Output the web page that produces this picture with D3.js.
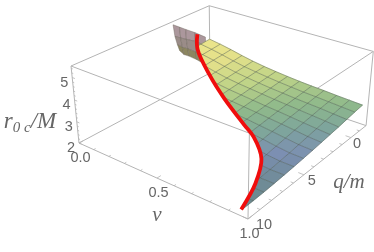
<!DOCTYPE html>
<html>
<head>
<meta charset="utf-8">
<script src="https://cdn.jsdelivr.net/npm/d3@7"></script>
<style>
	html, body { margin: 0; padding: 0; background: #fff; }
	svg { display: block; filter: blur(0.3px); }
	.tick { font: 14.5px "Liberation Sans", sans-serif; fill: #666; text-anchor: middle; dominant-baseline: central; }
	.lab { font: italic 21px "Liberation Serif", serif; fill: #666; text-anchor: middle; }
</style>
</head>
<body>
<svg id="chart" width="374" height="252"></svg>
<script>
// tick values
var vTicks = [0, 0.5, 1];
var qTicks = [0, 5, 10];
var zTicks = [2, 3, 4, 5];
var vMinor = d3.range(0, 1.01, 0.1);
var qMinor = d3.range(-1, 10.01, 1);
var zMinor = d3.range(2, 5.41, 0.2);
var qLabelDx = [6, 8, 16];

// surface mesh: v and q of the grid lines, r0c/M per v row
var surfaceV = [0, 0.075, 0.149, 0.224, 0.298, 0.373, 0.448, 0.522, 0.597, 0.672, 0.746, 0.821, 0.895, 0.97];
var surfaceQ = [-1.8, -0.89, 0.02, 0.92, 1.83, 2.74, 3.65, 4.55, 5.46, 6.37, 7.28, 8.18, 9.09, 10];
var surfaceZ = [
	[3.80, 3.76, 3.72, 3.68],
	[3.71, 3.67, 3.63, 3.59, 3.55],
	[3.60, 3.56, 3.52, 3.48, 3.44],
	[3.47, 3.43, 3.39, 3.35, 3.31, 3.27],
	[3.36, 3.32, 3.28, 3.24, 3.20, 3.16, 3.12],
	[3.27, 3.24, 3.20, 3.16, 3.12, 3.08, 3.04],
	[3.20, 3.17, 3.13, 3.10, 3.06, 3.02, 2.98, 2.94],
	[3.14, 3.11, 3.07, 3.04, 3.00, 2.96, 2.92, 2.88],
	[3.09, 3.06, 3.02, 2.98, 2.94, 2.90, 2.86, 2.82, 2.78],
	[3.05, 3.01, 2.97, 2.93, 2.89, 2.84, 2.79, 2.74, 2.69],
	[3.02, 2.98, 2.93, 2.88, 2.83, 2.78, 2.72, 2.66, 2.60, 2.54],
	[2.98, 2.94, 2.89, 2.83, 2.77, 2.71, 2.64, 2.57, 2.50, 2.44, 2.39, 2.35],
	[2.95, 2.90, 2.84, 2.78, 2.71, 2.64, 2.57, 2.50, 2.44, 2.39, 2.35, 2.32, 2.30, 2.29],
	[2.92, 2.86, 2.79, 2.72, 2.66, 2.60, 2.54, 2.49, 2.44, 2.40, 2.36, 2.33, 2.31, 2.30]
];

// the steep sliver left of the red curve, rows from top to bottom
var patchV = [0, 0, 0, 0.02, 0.06];
var patchQ = [
	[1.74, 1.15, 0.56, -0.03, -0.5],
	[1.6, 1.07, 0.53, -0.06, -0.52],
	[1.4, 0.93, 0.42, -0.1, -0.54],
	[1.2, 0.8, 0.32, -0.15, -0.56]
];
var patchZ = [
	[5.35, 5.1, 4.85, 4.6, 4.35],
	[4.75, 4.55, 4.35, 4.15, 3.9],
	[4.3, 4.05, 3.85, 3.6, 3.3],
	[3.95, 3.65, 3.45, 3.2, 2.9]
];
var patchColors = ['#ab979c', '#9a8c88', '#8c8660'];

// red critical curve
var curveV = [0, 0.07, 0.26, 0.45, 0.66, 0.73, 0.825, 0.90, 0.965];
var curveQ = [-0.56, 0.44, 2.04, 3.51, 4.93, 5.16, 5.99, 7.76, 10];
var curveZ = [4.35, 4.0, 3.6, 3.4, 3.2, 2.92, 2.5, 2.3, 2.28];

// box corners on screen, and how much each axis comes toward the viewer
var origin = [79, 143], endV = [248, 219], endQ = [210, 73], endZ = [71, 66];
var persV = -0.143, persQ = 0.191, persZ = -0.0515;

var qMin = -1.8, qMax = 10, zBot = 2, zTop = 5.5;
var scaleV = d3.scaleLinear().domain([0, 1]).range([0, 1]);
var scaleQ = d3.scaleLinear().domain([qMax, qMin]).range([0, 1]);
var scaleZ = d3.scaleLinear().domain([zBot, zTop]).range([0, 1]);

function project(v, q, z) {
	var u = scaleV(v), s = scaleQ(q), t = scaleZ(z);
	var w = 1 + persV * u + persQ * s + persZ * t;
	return [0, 1].map(function(k) {
		return (origin[k]
			+ u * ((1 + persV) * endV[k] - origin[k])
			+ s * ((1 + persQ) * endQ[k] - origin[k])
			+ t * ((1 + persZ) * endZ[k] - origin[k])) / w;
	});
}

var svg = d3.select('#chart');
var line = d3.line();
var BOX = '#b4b4b4';

// box
var edges = [
	[[0, qMax, zBot], [1, qMax, zBot]], [[1, qMax, zBot], [1, qMin, zBot]], [[1, qMin, zBot], [0, qMin, zBot]], [[0, qMin, zBot], [0, qMax, zBot]],
	[[0, qMax, zTop], [1, qMax, zTop]], [[1, qMax, zTop], [1, qMin, zTop]], [[1, qMin, zTop], [0, qMin, zTop]], [[0, qMin, zTop], [0, qMax, zTop]],
	[[0, qMax, zBot], [0, qMax, zTop]], [[1, qMax, zBot], [1, qMax, zTop]], [[1, qMin, zBot], [1, qMin, zTop]], [[0, qMin, zBot], [0, qMin, zTop]]
];
svg.append('g').selectAll('path').data(edges).join('path')
	.attr('d', function(d) { return line(d.map(function(p) { return project(p[0], p[1], p[2]); })); })
	.attr('fill', 'none').attr('stroke', BOX).attr('stroke-width', 1);

// ticks
function tick(g, a, b) {
	g.append('path').attr('d', line([a, b])).attr('stroke', BOX).attr('stroke-width', 0.8).attr('fill', 'none');
}
var tg = svg.append('g');
vMinor.forEach(function(v) {
	var big = vTicks.indexOf(+v.toFixed(1)) >= 0;
	tick(tg, project(v, qMax, zBot), project(v, big ? 9.7 : 9.85, zBot));
});
qMinor.forEach(function(q) {
	var big = qTicks.indexOf(q) >= 0;
	tick(tg, project(1, q, zBot), project(big ? 0.97 : 0.985, q, zBot));
});
zMinor.forEach(function(z) {
	var big = zTicks.indexOf(+z.toFixed(1)) >= 0;
	tick(tg, project(0, qMax, z), project(big ? 0.018 : 0.01, qMax, z));
});

// tick labels
var labelFmt = d3.format('.1f');
svg.append('g').selectAll('text').data(vTicks).join('text').attr('class', 'tick')
	.attr('x', function(d) { return project(d, qMax, zBot)[0] + 1.5; })
	.attr('y', function(d) { return project(d, qMax, zBot)[1] + 13.5; })
	.text(labelFmt);
svg.append('g').selectAll('text').data(qTicks).join('text').attr('class', 'tick')
	.attr('x', function(d, i) { return project(1, d, zBot)[0] + qLabelDx[i]; })
	.attr('y', function(d) { return project(1, d, zBot)[1] + 5; })
	.text(String);
svg.append('g').selectAll('text').data(zTicks).join('text').attr('class', 'tick')
	.attr('x', function(d) { return project(0, qMax, d)[0] - 8; })
	.attr('y', function(d) { return project(0, qMax, d)[1] + 4; })
	.text(String);

// clip the surface at the red curve
var curvePts = curveV.map(function(v, i) { return project(v, curveQ[i], curveZ[i]); });
var smooth = d3.line().curve(d3.curveCatmullRom.alpha(0.5));
svg.append('clipPath').attr('id', 'clip-surface').append('path')
	.attr('d', smooth(curvePts) + 'L400,252L400,0L' + curvePts[0][0] + ',0Z');

// sliver
var pg = svg.append('g');
patchZ.slice(0, -1).forEach(function(row, r) {
	row.slice(0, -1).forEach(function(z, c) {
		var cell = [
			project(patchV[c], patchQ[r][c], z),
			project(patchV[c + 1], patchQ[r][c + 1], row[c + 1]),
			project(patchV[c + 1], patchQ[r + 1][c + 1], patchZ[r + 1][c + 1]),
			project(patchV[c], patchQ[r + 1][c], patchZ[r + 1][c])
		];
		pg.append('path').attr('d', line(cell) + 'Z')
			.attr('fill', patchColors[r])
			.attr('stroke', '#6b6258').attr('stroke-width', 0.4);
	});
});

// surface
var color = d3.scaleLinear()
	.domain([2.32, 2.5, 2.72, 2.92, 3.15, 3.45, 3.8])
	.range(['#6d8a92', '#7c8fb2', '#7ea59c', '#8fb98b', '#c0d488', '#e2e08a', '#ece58b'])
	.clamp(true);
var sg = svg.append('g').attr('clip-path', 'url(#clip-surface)');
var cells = [];
surfaceZ.slice(0, -1).forEach(function(row, i) {
	var next = surfaceZ[i + 1];
	row.forEach(function(z, j) {
		if (j + 1 >= row.length || j + 1 >= next.length) return;
		cells.push({
			pts: [
				project(surfaceV[i], surfaceQ[j], z),
				project(surfaceV[i], surfaceQ[j + 1], row[j + 1]),
				project(surfaceV[i + 1], surfaceQ[j + 1], next[j + 1]),
				project(surfaceV[i + 1], surfaceQ[j], next[j])
			],
			z: d3.mean([z, row[j + 1], next[j + 1], next[j]])
		});
	});
});
sg.selectAll('path.cell').data(cells).join('path').attr('class', 'cell')
	.attr('d', function(d) { return line(d.pts) + 'Z'; })
	.attr('fill', function(d) { return color(d.z); })
	.attr('stroke', function(d) { return color(d.z); })
	.attr('stroke-width', 0.5);

// mesh lines
surfaceZ.forEach(function(row, i) {
	sg.append('path')
		.attr('d', line(row.map(function(z, j) { return project(surfaceV[i], surfaceQ[j], z); })))
		.attr('fill', 'none').attr('stroke', '#4f5a50').attr('stroke-opacity', 0.65).attr('stroke-width', 0.7);
});
surfaceQ.forEach(function(q, j) {
	var pts = [];
	surfaceZ.forEach(function(row, i) {
		if (j < row.length) pts.push(project(surfaceV[i], q, row[j]));
	});
	sg.append('path').attr('d', line(pts))
		.attr('fill', 'none').attr('stroke', '#4f5a50').attr('stroke-opacity', 0.65).attr('stroke-width', 0.7);
});

// red curve
svg.append('path').attr('d', smooth(curvePts))
	.attr('fill', 'none').attr('stroke', '#f00d0d').attr('stroke-width', 3.8);

// axis titles
var rLab = svg.append('text').attr('class', 'lab').attr('x', 30).attr('y', 128);
rLab.append('tspan').attr('font-size', 23).text('r');
rLab.append('tspan').attr('font-size', 15).attr('dy', 4).text('0 c');
rLab.append('tspan').attr('font-size', 23).attr('dy', -4).text('/M');
svg.append('text').attr('class', 'lab').attr('x', 157).attr('y', 221).attr('font-size', 23).text('v');
svg.append('text').attr('class', 'lab').attr('x', 349).attr('y', 188).text('q/m');
</script>
</body>
</html>
